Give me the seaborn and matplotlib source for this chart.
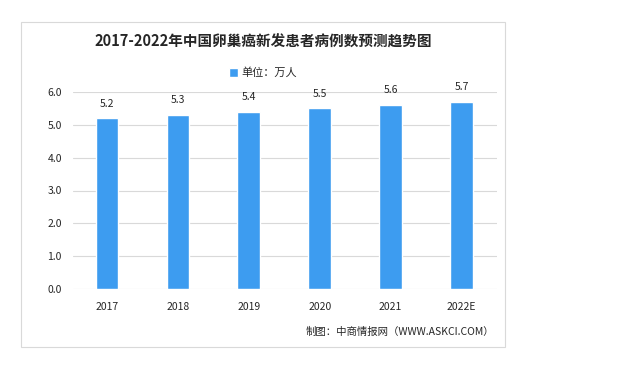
import matplotlib
matplotlib.use("Agg")
import matplotlib.pyplot as plt
import seaborn as sns
import pandas as pd
from matplotlib.patches import Rectangle

# 数据
years = ["2017", "2018", "2019", "2020", "2021", "2022E"]
cases = [5.2, 5.3, 5.4, 5.5, 5.6, 5.7]
y_ticks = [0.0, 1.0, 2.0, 3.0, 4.0, 5.0, 6.0]

bar_color = "#3D9CF0"

sns.set_style("white")
plt.rcParams['font.family'] = ['Noto Sans CJK SC', 'DejaVu Sans']

df = pd.DataFrame({"year": years, "cases": cases})

fig = plt.figure(figsize=(6.18, 3.72), dpi=100)
ax = fig.add_axes([73 / 618, 1 - 289 / 372, (497 - 73) / 618, (289 - 92) / 372])

sns.barplot(data=df, x="year", y="cases", color=bar_color, width=0.32,
            saturation=1, ax=ax, label="单位：万人")

ax.set_ylim(0, 6)
ax.set_xlim(-0.48, 5.5)
ax.set_yticks(y_ticks)
ax.set_yticklabels([f"{v:.1f}" for v in y_ticks], fontsize=7.5)
ax.tick_params(axis="x", labelsize=7.5, length=0, pad=9)
ax.tick_params(axis="y", length=0, pad=8)
ax.set_xlabel("")
ax.set_ylabel("")
ax.grid(axis="y", color="#D9D9D9", linewidth=0.8)
ax.set_axisbelow(True)
for s in ax.spines.values():
    s.set_visible(False)

ax.bar_label(ax.containers[0], fmt="%.1f", padding=7, fontsize=7.5)

# 图例
ax.legend(loc="center", bbox_to_anchor=((263 - 73) / (497 - 73), 1 + (92 - 73) / (289 - 92)),
          frameon=False, fontsize=8, handlelength=0.8, handleheight=0.8,
          handletextpad=0.3, borderaxespad=0)

# 标题
fig.text(263 / 618, 1 - 42 / 372, "2017-2022年中国卵巢癌新发患者病例数预测趋势图",
         ha="center", va="center", fontsize=10.5, fontweight="bold")

# 来源
fig.text(494 / 618, 1 - 332 / 372, "制图：中商情报网（WWW.ASKCI.COM）",
         ha="right", va="center", fontsize=7.5)

# 外框
fig.patches.append(Rectangle((21 / 618, 1 - 347 / 372), (505 - 21) / 618, (347 - 22) / 372,
                             transform=fig.transFigure, fill=False,
                             edgecolor="#D9D9D9", linewidth=0.8))

fig.savefig("out.png", dpi=100)
